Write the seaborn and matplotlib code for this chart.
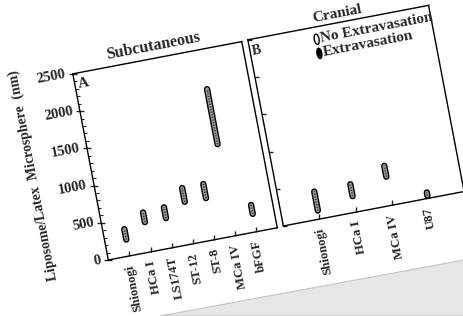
import numpy as np
import pandas as pd
import seaborn as sns
import matplotlib
matplotlib.use('Agg')
import matplotlib.pyplot as plt
import matplotlib.transforms as mtransforms
from matplotlib.axes import Axes
from matplotlib.projections import register_projection
from matplotlib.patches import Ellipse, Polygon
from matplotlib.ticker import MultipleLocator

# Subcutaneous tumours: pore cutoff range (nm), low and high end
sub_tumors = ['Shionogi', 'HCa I', 'LS174T', 'ST-12', 'ST-8', 'MCa IV', 'bFGF']
sub_low = [220, 400, 400, 565, 560, 1230, 240]
sub_high = [360, 530, 545, 750, 750, 1970, 360]

# Cranial tumours
cran_tumors = ['Shionogi', 'HCa I', 'MCa IV', 'U87']
cran_low = [115, 215, 385, 35]
cran_high = [370, 375, 530, 80]

y_ticks = [0, 500, 1000, 1500, 2000, 2500]

TILT = 10.8          # the scanned page is turned by this many degrees
PIVOT = (232, 158)   # pixels, centre of the figure
W, H = 464, 316


class TiltedAxes(Axes):
    # normal axes, the whole frame turned about PIVOT
    name = 'tilted'

    def _set_lim_and_transforms(self):
        super()._set_lim_and_transforms()
        tilt = mtransforms.Affine2D().rotate_deg_around(PIVOT[0], PIVOT[1], TILT)
        base_axes = self.transAxes
        base_data = self.transData
        self.transAxes = base_axes + tilt
        self.transData = base_data + tilt
        self._xaxis_transform = mtransforms.blended_transform_factory(base_data, base_axes) + tilt
        self._yaxis_transform = mtransforms.blended_transform_factory(base_axes, base_data) + tilt


register_projection(TiltedAxes)

sns.set_style('ticks')
plt.rcParams['font.family'] = ['Liberation Serif', 'DejaVu Serif']
plt.rcParams['font.weight'] = 'bold'


def to_long(tumors, low, high):
    pos = np.arange(1, len(tumors) + 1)
    return pd.DataFrame({'tumor': tumors * 2,
                         'pos': np.concatenate([pos, pos]),
                         'nm': list(low) + list(high)})


def draw_ranges(ax, df):
    # capsule: dark rim, grey fill, dark speckle like the hatching
    common = dict(data=df, x='pos', y='nm', units='tumor', estimator=None,
                  sort=False, ax=ax, legend=False)
    sns.lineplot(color='black', linewidth=4.6, solid_capstyle='round', **common)
    sns.lineplot(color='#9a9a9a', linewidth=2.6, solid_capstyle='round', **common)
    sns.lineplot(color='#303030', linewidth=1.2, linestyle=(0, (0.7, 0.9)), **common)
    ax.set_xlabel('')
    ax.set_ylabel('')


def frame(ax, xmax):
    ax.set_xlim(0, xmax)
    ax.set_ylim(0, 2500)
    for s in ax.spines.values():
        s.set_visible(True)
        s.set_linewidth(1.0)
        s.set_color('black')
    ax.tick_params(top=False, right=False)


fig = plt.figure(figsize=(W / 100, H / 100), dpi=100)

# grey desk under the corner of the scanned page
fig.patches.append(Polygon([(160 / W, 0), (1, 56 / H), (1, 0)], closed=True,
                           transform=fig.transFigure, facecolor='#e6e6e6',
                           edgecolor='#c4c4c4', linewidth=0.8, zorder=-1))

ax_a = fig.add_axes([91.4 / W, 81.0 / H, 172 / W, 189.5 / H], projection='tilted')
ax_b = fig.add_axes([269.7 / W, 81.6 / H, 184 / W, 189.5 / H], projection='tilted')

df_sub = to_long(sub_tumors, sub_low, sub_high)
df_cran = to_long(cran_tumors, cran_low, cran_high)

draw_ranges(ax_a, df_sub)
draw_ranges(ax_b, df_cran)

frame(ax_a, 8)
frame(ax_b, 5)

lab = dict(ha='right', va='center', rotation_mode='anchor')
ax_a.set_xticks(np.arange(1, len(sub_tumors) + 1), sub_tumors,
                rotation=90 + TILT, fontsize=9.2, **lab)
ax_b.set_xticks(np.arange(1, len(cran_tumors) + 1), cran_tumors,
                rotation=90 + TILT, fontsize=9.2, **lab)
ax_a.set_yticks(y_ticks, [str(v) for v in y_ticks], rotation=TILT, fontsize=10.5, **lab)
ax_b.set_yticks(y_ticks, [])
ax_a.yaxis.set_minor_locator(MultipleLocator(100))

ax_a.tick_params(axis='y', which='major', direction='inout', length=6, width=1, pad=2)
ax_a.tick_params(axis='y', which='minor', direction='in', length=2.5, width=0.8)
ax_b.tick_params(axis='y', which='major', direction='in', length=3, width=1)
for ax in (ax_a, ax_b):
    ax.tick_params(axis='x', direction='in', length=3.5, width=1, pad=6)

txt = dict(rotation_mode='anchor', fontweight='bold')
ax_a.text(0.488, 1.065, 'Subcutaneous', transform=ax_a.transAxes, rotation=TILT,
          ha='center', va='center', fontsize=11.5, **txt)
ax_b.text(0.505, 1.045, 'Cranial', transform=ax_b.transAxes, rotation=TILT,
          ha='center', va='center', fontsize=11, **txt)
ax_a.text(0.05, 0.941, 'A', transform=ax_a.transAxes, rotation=TILT,
          ha='center', va='center', fontsize=11, **txt)
ax_b.text(0.035, 0.933, 'B', transform=ax_b.transAxes, rotation=TILT,
          ha='center', va='center', fontsize=10, **txt)
ax_a.text(-0.338, 0.515, 'Liposome/Latex  Microsphere  (nm)', transform=ax_a.transAxes,
          rotation=90 + TILT, ha='center', va='center', fontsize=10, **txt)

# legend drawn by hand so it turns with the page
ax_b.add_patch(Ellipse((0.368, 0.935), 0.026, 0.055, transform=ax_b.transAxes,
                       facecolor='white', edgecolor='black', linewidth=1.0))
ax_b.add_patch(Ellipse((0.368, 0.859), 0.026, 0.055, transform=ax_b.transAxes,
                       facecolor='black', edgecolor='black', linewidth=1.0))
ax_b.text(0.39, 0.935, 'No Extravasation', transform=ax_b.transAxes, rotation=TILT,
          ha='left', va='center', fontsize=11, **txt)
ax_b.text(0.39, 0.859, 'Extravasation', transform=ax_b.transAxes, rotation=TILT,
          ha='left', va='center', fontsize=11, **txt)

fig.savefig('out.png', dpi=100, facecolor='white')
